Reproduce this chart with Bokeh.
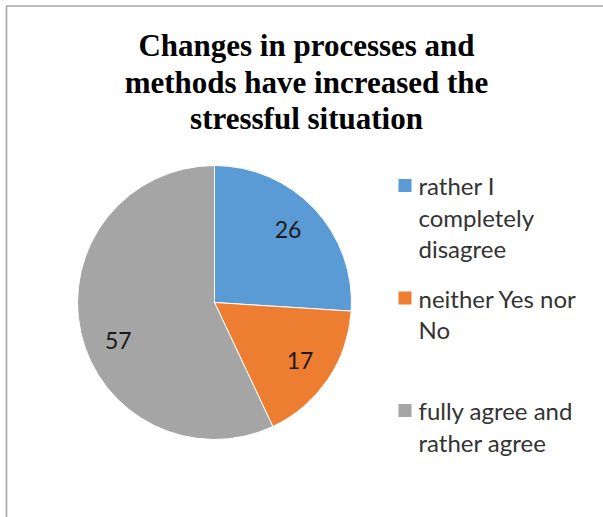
import textwrap
import numpy as np
from bokeh.plotting import figure
from bokeh.models import Range1d, ColumnDataSource
from bokeh.core.properties import value
from bokeh.embed import file_html
from bokeh.resources import INLINE

# ---- data ----
title = "Changes in processes and methods have increased the stressful situation"
categories = ["rather I completely disagree", "neither Yes nor No", "fully agree and rather agree"]
values = [26, 17, 57]
colors = ["#5B9BD5", "#ED7D31", "#A5A5A5"]

W, H = 603, 517
p = figure(width=W, height=H, x_range=Range1d(0, W), y_range=Range1d(0, H),
           output_backend="svg", toolbar_location=None, min_border=0)
p.axis.visible = False
p.grid.visible = False
p.outline_line_color = None
p.background_fill_color = "white"
p.border_fill_color = "white"

def sx(x):
    return x

def sy(y):
    return H - y

# frame lines (top and left)
p.line([sx(6), sx(6), W], [0, sy(5.5), sy(5.5)], line_color="#A6A6A6", line_width=1.6)

# ---- pie ----
cx, cy, R = sx(214), sy(302), 137
fr = np.array(values, dtype=float) / sum(values)
cum = np.concatenate([[0.0], np.cumsum(fr)])
a0 = np.pi / 2 - 2 * np.pi * cum[:-1]
a1 = np.pi / 2 - 2 * np.pi * cum[1:]
pie = ColumnDataSource(dict(start=a1, end=a0, color=colors))
p.wedge(x=cx, y=cy, radius=R, start_angle="start", end_angle="end",
        fill_color="color", line_color="white", line_width=1, source=pie)

# data-label placement (best-fit style nudge for the large slice)
label_shift_deg = np.array([1.5, 0.0, 9.0])
mid = (a0 + a1) / 2 + np.radians(label_shift_deg)
lab = ColumnDataSource(dict(x=cx + 0.755 * R * np.cos(mid), y=cy + 0.755 * R * np.sin(mid),
                            t=[str(v) for v in values]))
p.text(x="x", y="y", text="t", source=lab, text_align="center", text_baseline="middle",
       text_font=value("Lato"), text_font_size="23px", text_color="#1a1a1a")

# ---- title ----
tlines = textwrap.wrap(title, 26)
tsrc = ColumnDataSource(dict(x=[sx(306)] * len(tlines),
                             y=[sy(45) - 36.5 * i for i in range(len(tlines))], t=tlines))
p.text(x="x", y="y", text="t", source=tsrc, text_align="center", text_baseline="middle",
       text_font=value("Liberation Serif"), text_font_style="bold", text_font_size="31px",
       text_color="black")

# ---- legend ----
lx, ly, ls = [], [], []
sqx, sqy = [], []
for i, c in enumerate(categories):
    yc = sy(185 + 112.5 * i)
    sqx.append(sx(404.5))
    sqy.append(yc)
    for j, line in enumerate(textwrap.wrap(c, 15)):
        lx.append(sx(418))
        ly.append(yc - 31.5 * j)
        ls.append(line)
p.rect(x=sqx, y=sqy, width=13, height=13, fill_color=colors, line_color=None)
p.text(x=lx, y=ly, text=ls, text_align="left", text_baseline="middle",
       text_font=value("Lato"), text_font_size="24px", text_color="#333333")

open("out.html", "w").write(file_html(p, INLINE))
